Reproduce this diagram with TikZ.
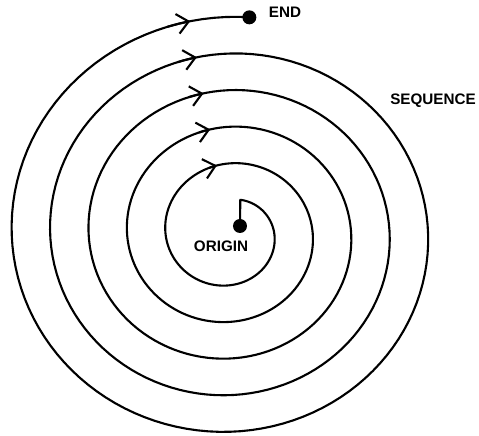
\documentclass[tikz,border=0pt]{standalone}
\usepackage{fontspec}
\setmainfont{Liberation Sans}
\usetikzlibrary{arrows.meta}

\begin{document}
\begin{tikzpicture}[>={Straight Barb[length=3.4mm,width=6mm]},
 declare function={spr(\t)=1.005+0.00305*\t;},
 spiral/.style={line width=1.8pt,line join=round},
 dot/.style={circle,fill=black,inner sep=0pt,minimum size=4.2mm},
 tag/.style={inner sep=0pt,font=\fontsize{13}{15}\selectfont\bfseries}]
\useasboundingbox (-6.885,-6.075) rectangle (7.485,7.005);
\node[dot] (origin) at (0.315,0.225) {};
\node[dot] (end) at (0.596,6.485) {};
\coordinate (start) at (0.324,1.011);
\draw[spiral] (origin.center) -- (start) -- plot[domain=17:1805,samples=600,variable=\t] ({1.05*spr(\t)*sin(\t)},{spr(\t)*cos(\t)});
\foreach \k in {1,...,5}
  \draw[spiral,->] plot[domain=360*\k-16:360*\k-10,samples=5,variable=\t] ({1.05*spr(\t)*sin(\t)},{spr(\t)*cos(\t)});
\node[tag] (lorigin) at (-0.255,-0.375) {ORIGIN};
\node[tag] (lend) at (1.665,6.645) {END};
\node[tag] (lsequence) at (6.105,3.975) {SEQUENCE};
\end{tikzpicture}
\end{document}
